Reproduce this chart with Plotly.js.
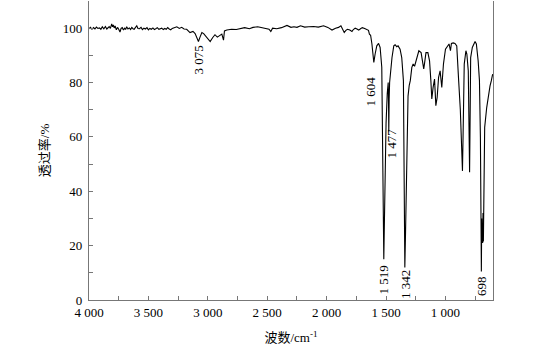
<!DOCTYPE html>
<html>
<head>
<meta charset="utf-8">
<script src="https://cdn.plot.ly/plotly-3.0.1.min.js"></script>
<style>html,body{margin:0;padding:0;background:#fff;}#chart{width:548px;height:345px;}</style>
</head>
<body>
<div id="chart"></div>
<script>
// IR spectrum: wavenumber (cm-1) and transmittance (%)
const wavenumber = [
  4000, 3988, 3975, 3962, 3950, 3938, 3925, 3912, 3900, 3888, 3875, 3862, 3850, 3840, 3830, 3820,
  3809, 3802, 3795, 3788, 3780, 3770, 3760, 3750, 3739, 3730, 3720, 3710, 3700, 3692, 3683, 3672,
  3660, 3650, 3640, 3630, 3620, 3610, 3598, 3588, 3575, 3562, 3550, 3538, 3525, 3512, 3500, 3488,
  3475, 3462, 3450, 3438, 3425, 3412, 3400, 3388, 3375, 3362, 3350, 3338, 3325, 3312, 3300,
  3280, 3261, 3240, 3220, 3200, 3178, 3150, 3125, 3107, 3095, 3079, 3065, 3050, 3035, 3020, 3000,
  2980, 2960, 2940, 2920, 2900, 2882, 2868, 2860, 2840, 2800, 2760, 2720, 2690, 2650, 2620, 2580,
  2540, 2510, 2485, 2470, 2455, 2420, 2380, 2334, 2300, 2275, 2250, 2220, 2185, 2150, 2110, 2070,
  2026, 1990, 1955, 1925, 1900, 1880, 1865, 1852, 1838, 1825, 1805, 1787, 1775, 1760, 1745, 1730,
  1715, 1700, 1680, 1660, 1648, 1640, 1630, 1619, 1611, 1603, 1592, 1578, 1563, 1550, 1536, 1528,
  1522, 1519, 1515, 1510, 1500, 1490, 1482, 1479, 1477, 1474, 1470, 1460, 1450, 1435, 1424, 1410,
  1399, 1382, 1368, 1354, 1348, 1342, 1336, 1330, 1325, 1320, 1315, 1305, 1296, 1283, 1272, 1260,
  1244, 1224, 1205, 1191, 1183, 1175, 1164, 1148, 1134, 1123, 1115, 1104, 1092, 1081, 1070, 1058,
  1045, 1031, 1017, 1000, 983, 970, 958, 950, 935, 920, 905, 897, 889, 875, 865, 857,
  852, 847, 842, 828, 820, 808, 802, 797, 792, 788, 774, 759, 751, 740, 725, 714,
  706, 701, 698, 695, 692, 690, 687, 684, 681, 676, 670, 653, 639, 625, 614, 603
];
const transmittance = [
  99.8, 100.3, 99.6, 100.2, 99.7, 100.4, 99.9, 100.1, 99.6, 100.5, 99.8, 100.6, 99.7, 100.2, 100.6, 99.9,
  101.6, 100.5, 101.2, 100.1, 100.8, 99.4, 100.3, 99.6, 98.6, 99.9, 100.2, 99.3, 100.0, 99.5, 100.5, 99.7,
  100.1, 99.5, 100.3, 99.8, 99.6, 100.2, 100.9, 99.9, 99.8, 100.3, 99.5, 100.0, 99.7, 100.2, 99.4, 99.9,
  99.6, 100.1, 99.5, 99.8, 100.2, 99.6, 99.7, 100.0, 99.5, 99.9, 99.6, 100.2, 99.7, 99.4, 99.9,
  100.2, 100.5, 99.9, 100.3, 99.7, 99.6, 98.4, 98.8, 98.0, 96.8, 95.1, 96.8, 98.4, 98.0, 97.2, 96.2,
  95.1, 96.5, 97.6, 96.7, 97.4, 97.8, 95.6, 99.0, 99.3, 99.6, 99.5, 100.0, 100.2, 99.8, 100.3, 100.5,
  100.1, 99.9, 99.6, 98.8, 100.0, 99.8, 100.2, 101.0, 100.3, 100.5, 100.3, 100.9, 100.4, 100.5, 100.6, 100.4,
  100.9, 100.3, 99.3, 100.0, 100.3, 100.9, 99.8, 98.4, 99.2, 99.6, 99.3, 98.8, 99.5, 100.0, 99.7, 99.3,
  99.8, 100.2, 99.9, 99.6, 99.2, 97.8, 97.4, 94.2, 89.9, 87.4, 90.5, 93.5, 94.4, 92.9, 85.6, 60.0,
  30.0, 15.0, 26.0, 40.0, 65.0, 76.0, 80.0, 72.0, 62.0, 74.0, 80.0, 86.0, 89.2, 93.5, 93.9, 93.2,
  93.5, 92.3, 89.2, 80.7, 55.0, 12.0, 25.0, 40.0, 58.0, 62.0, 75.0, 79.0, 80.7, 85.6, 86.8, 86.0,
  88.6, 91.7, 91.0, 86.2, 85.0, 87.4, 91.0, 91.0, 88.0, 80.7, 74.0, 78.2, 81.3, 71.5, 74.5, 81.9,
  84.3, 78.2, 86.8, 92.3, 93.5, 94.2, 91.7, 94.4, 94.6, 94.4, 93.5, 83.1, 80.7, 70.0, 56.0, 47.5,
  60.0, 80.0, 86.8, 91.7, 90.5, 84.3, 65.0, 47.0, 70.0, 89.2, 92.9, 94.4, 95.1, 94.2, 88.0, 80.7,
  60.0, 30.0, 10.5, 30.0, 22.0, 28.0, 21.0, 32.0, 21.5, 45.0, 63.5, 70.8, 75.8, 78.8, 80.7, 83.1
];
// tick labels
const xTickVals = [4000, 3750, 3500, 3250, 3000, 2750, 2500, 2250, 2000, 1750, 1500, 1250, 1000, 750];
const xTickText = ["4 000", "", "3 500", "", "3 000", "", "2 500", "", "2 000", "", "1 500", "", "1 000", ""];
const yTickVals = [0, 10, 20, 30, 40, 50, 60, 70, 80, 90, 100];
const yTickText = ["0", "", "20", "", "40", "", "60", "", "80", "", "100"];
// peak labels
const peakLabels = ["3 075", "1 604", "1 477", "1 519", "1 342", "698"];
const peakX = [3075, 1604, 1477, 1519, 1342, 698];
const peakLabelY = [88.4, 76.6, 57.5, 7.5, 5.8, 5.3];
const peakShift = [0, -3, 3, 0, 0, 0];

const serif = '"Liberation Serif", "Times New Roman", "Noto Sans CJK SC", serif';
const cjk = '"Liberation Serif", "Noto Sans CJK SC", serif';

const annotations = peakLabels.map((t, i) => ({
  x: peakX[i], y: peakLabelY[i], xref: 'x', yref: 'y', text: t, showarrow: false,
  textangle: -90, xshift: peakShift[i], font: {family: serif, size: 13, color: '#000'}
}));

const data = [{
  x: wavenumber, y: transmittance, type: 'scatter', mode: 'lines',
  line: {color: '#000', width: 1.1}, hoverinfo: 'skip'
}];

const layout = {
  width: 548, height: 345,
  margin: {l: 89, r: 55, t: 1, b: 45},
  paper_bgcolor: '#fff', plot_bgcolor: '#fff',
  showlegend: false,
  font: {family: serif, size: 13, color: '#000'},
  xaxis: {
    range: [4000, 600], autorange: false,
    tickmode: 'array', tickvals: xTickVals, ticktext: xTickText,
    ticks: 'inside', ticklen: 4, tickwidth: 1, tickcolor: '#777',
    showline: true, linecolor: '#777', linewidth: 1.2, mirror: false,
    showgrid: false, zeroline: false,
    tickfont: {family: serif, size: 13, color: '#000'},
    title: {text: '波数/cm<sup>-1</sup>', font: {family: cjk, size: 13, color: '#000'}, standoff: 16}
  },
  yaxis: {
    range: [0, 110], autorange: false,
    tickmode: 'array', tickvals: yTickVals, ticktext: yTickText,
    ticks: 'inside', ticklen: 4, tickwidth: 1, tickcolor: '#777',
    showline: true, linecolor: '#777', linewidth: 1.2, mirror: true,
    showgrid: false, zeroline: false,
    ticklabelstandoff: 3,
    tickfont: {family: serif, size: 13, color: '#000'},
    title: {text: '透过率/%', font: {family: cjk, size: 13, color: '#000'}, standoff: 10}
  },
  annotations: annotations
};

Plotly.newPlot('chart', data, layout, {displayModeBar: false, staticPlot: true});
</script>
</body>
</html>
